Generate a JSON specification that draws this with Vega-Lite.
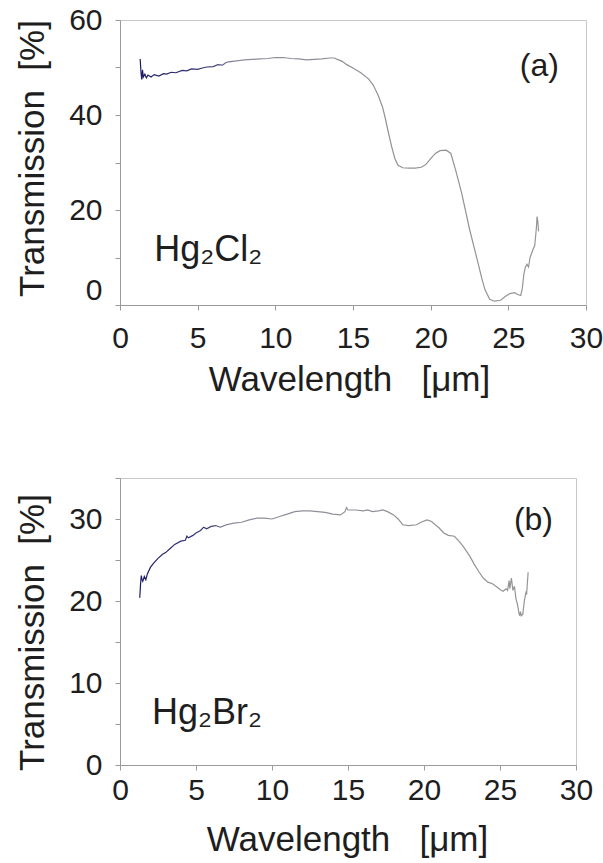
{
  "$schema": "https://vega.github.io/schema/vega-lite/v6.json",
  "autosize": {"type": "none"},
  "padding": {"left": 120, "top": 20, "right": 483, "bottom": 843},
  "background": "white",
  "bounds": "flush",
  "spacing": 173,
  "config": {
    "font": "Liberation Sans",
    "view": {"stroke": "#c8c8c8", "strokeWidth": 1},
    "axis": {
      "grid": false,
      "domainColor": "#9a9a9a",
      "tickColor": "#9a9a9a",
      "tickSize": 5,
      "labelFontSize": 30,
      "labelColor": "#1e1e1e",
      "labelFont": "Liberation Sans",
      "titleFont": "Liberation Sans",
      "titleFontSize": 35,
      "titleFontWeight": "normal",
      "titleColor": "#1e1e1e",
      "labelFlush": false,
      "labelOverlap": false
    },
    "text": {"font": "Liberation Sans", "color": "#1e1e1e"}
  },
  "datasets": {
    "cl": [
      {"wl": 1.3, "t": 51.8}, {"wl": 1.35, "t": 49.0}, {"wl": 1.4, "t": 47.5}, {"wl": 1.45, "t": 49.5},
      {"wl": 1.5, "t": 48.0}, {"wl": 1.6, "t": 48.6}, {"wl": 1.7, "t": 47.8}, {"wl": 1.8, "t": 48.4},
      {"wl": 2.0, "t": 48.0}, {"wl": 2.2, "t": 48.5}, {"wl": 2.5, "t": 48.2}, {"wl": 2.8, "t": 48.7},
      {"wl": 3.0, "t": 48.6}, {"wl": 3.3, "t": 49.0}, {"wl": 3.6, "t": 48.9}, {"wl": 4.0, "t": 49.4},
      {"wl": 4.3, "t": 49.3}, {"wl": 4.6, "t": 49.7}, {"wl": 5.0, "t": 49.6}, {"wl": 5.3, "t": 49.9},
      {"wl": 5.6, "t": 50.1}, {"wl": 6.0, "t": 50.2}, {"wl": 6.3, "t": 50.6}, {"wl": 6.6, "t": 50.5},
      {"wl": 6.8, "t": 51.0}, {"wl": 7.0, "t": 51.2}, {"wl": 7.5, "t": 51.4}, {"wl": 8.0, "t": 51.6},
      {"wl": 8.5, "t": 51.7}, {"wl": 9.0, "t": 51.8}, {"wl": 9.5, "t": 51.9}, {"wl": 10.0, "t": 52.1},
      {"wl": 10.5, "t": 52.1}, {"wl": 11.0, "t": 51.9}, {"wl": 11.5, "t": 51.8}, {"wl": 12.0, "t": 51.6},
      {"wl": 12.5, "t": 51.7}, {"wl": 13.0, "t": 51.8}, {"wl": 13.5, "t": 52.0}, {"wl": 13.8, "t": 52.0},
      {"wl": 14.0, "t": 51.7}, {"wl": 14.3, "t": 51.3}, {"wl": 14.6, "t": 50.6}, {"wl": 15.0, "t": 49.9},
      {"wl": 15.5, "t": 48.9}, {"wl": 16.0, "t": 47.6}, {"wl": 16.3, "t": 46.3}, {"wl": 16.6, "t": 44.3},
      {"wl": 16.9, "t": 41.7}, {"wl": 17.1, "t": 39.0}, {"wl": 17.3, "t": 36.0}, {"wl": 17.5, "t": 33.2},
      {"wl": 17.7, "t": 30.8}, {"wl": 17.9, "t": 29.4}, {"wl": 18.2, "t": 28.9}, {"wl": 18.6, "t": 28.8},
      {"wl": 19.0, "t": 28.8}, {"wl": 19.4, "t": 29.0}, {"wl": 19.7, "t": 29.6}, {"wl": 20.0, "t": 30.8},
      {"wl": 20.3, "t": 31.9}, {"wl": 20.6, "t": 32.5}, {"wl": 21.0, "t": 32.6}, {"wl": 21.3, "t": 31.9},
      {"wl": 21.6, "t": 28.5}, {"wl": 22.0, "t": 23.5}, {"wl": 22.5, "t": 16.0}, {"wl": 23.0, "t": 9.5},
      {"wl": 23.3, "t": 5.5}, {"wl": 23.5, "t": 3.2}, {"wl": 23.8, "t": 1.2}, {"wl": 24.1, "t": 0.8},
      {"wl": 24.5, "t": 1.0}, {"wl": 24.8, "t": 1.8}, {"wl": 25.1, "t": 2.4}, {"wl": 25.4, "t": 2.6},
      {"wl": 25.6, "t": 2.2}, {"wl": 25.8, "t": 2.0}, {"wl": 25.9, "t": 3.5}, {"wl": 26.0, "t": 6.5},
      {"wl": 26.1, "t": 8.0}, {"wl": 26.2, "t": 8.6}, {"wl": 26.3, "t": 8.0}, {"wl": 26.4, "t": 10.0},
      {"wl": 26.6, "t": 11.8}, {"wl": 26.7, "t": 12.5}, {"wl": 26.8, "t": 16.0}, {"wl": 26.85, "t": 18.6},
      {"wl": 26.9, "t": 17.5}, {"wl": 26.95, "t": 15.5}
    ],
    "br": [
      {"wl": 1.3, "t": 20.4}, {"wl": 1.35, "t": 22.0}, {"wl": 1.4, "t": 23.1}, {"wl": 1.45, "t": 22.6},
      {"wl": 1.5, "t": 22.4}, {"wl": 1.6, "t": 23.0}, {"wl": 1.7, "t": 22.6}, {"wl": 1.8, "t": 23.3},
      {"wl": 2.0, "t": 24.1}, {"wl": 2.2, "t": 24.6}, {"wl": 2.5, "t": 25.2}, {"wl": 2.8, "t": 25.7},
      {"wl": 3.0, "t": 25.9}, {"wl": 3.3, "t": 26.4}, {"wl": 3.6, "t": 26.9}, {"wl": 4.0, "t": 27.3},
      {"wl": 4.3, "t": 27.4}, {"wl": 4.4, "t": 27.9}, {"wl": 4.5, "t": 27.7}, {"wl": 4.8, "t": 28.0},
      {"wl": 5.0, "t": 28.3}, {"wl": 5.3, "t": 28.6}, {"wl": 5.5, "t": 29.0}, {"wl": 5.7, "t": 28.8},
      {"wl": 6.0, "t": 29.1}, {"wl": 6.3, "t": 29.2}, {"wl": 6.6, "t": 29.0}, {"wl": 7.0, "t": 29.3},
      {"wl": 7.5, "t": 29.5}, {"wl": 8.0, "t": 29.6}, {"wl": 8.5, "t": 29.9}, {"wl": 9.0, "t": 30.1},
      {"wl": 9.5, "t": 30.1}, {"wl": 10.0, "t": 30.0}, {"wl": 10.5, "t": 30.3}, {"wl": 11.0, "t": 30.6},
      {"wl": 11.5, "t": 30.9}, {"wl": 12.0, "t": 31.0}, {"wl": 12.5, "t": 31.0}, {"wl": 13.0, "t": 30.9},
      {"wl": 13.5, "t": 30.8}, {"wl": 14.0, "t": 30.6}, {"wl": 14.5, "t": 30.5}, {"wl": 14.8, "t": 30.9},
      {"wl": 14.9, "t": 31.4}, {"wl": 15.0, "t": 31.1}, {"wl": 15.5, "t": 31.1}, {"wl": 16.0, "t": 31.0},
      {"wl": 16.3, "t": 31.1}, {"wl": 16.6, "t": 30.9}, {"wl": 17.0, "t": 31.0}, {"wl": 17.3, "t": 31.1},
      {"wl": 17.6, "t": 30.9}, {"wl": 18.0, "t": 30.5}, {"wl": 18.3, "t": 30.0}, {"wl": 18.6, "t": 29.3},
      {"wl": 19.0, "t": 29.2}, {"wl": 19.5, "t": 29.3}, {"wl": 19.8, "t": 29.6}, {"wl": 20.2, "t": 29.9},
      {"wl": 20.5, "t": 29.7}, {"wl": 20.8, "t": 29.2}, {"wl": 21.0, "t": 28.9}, {"wl": 21.3, "t": 28.3},
      {"wl": 21.6, "t": 28.0}, {"wl": 22.0, "t": 27.9}, {"wl": 22.3, "t": 27.3}, {"wl": 22.6, "t": 26.6},
      {"wl": 23.0, "t": 25.5}, {"wl": 23.3, "t": 24.5}, {"wl": 23.6, "t": 23.6}, {"wl": 23.9, "t": 22.8},
      {"wl": 24.2, "t": 22.3}, {"wl": 24.5, "t": 22.1}, {"wl": 24.8, "t": 21.7}, {"wl": 25.0, "t": 21.4},
      {"wl": 25.2, "t": 21.2}, {"wl": 25.4, "t": 21.5}, {"wl": 25.5, "t": 21.3}, {"wl": 25.6, "t": 22.5},
      {"wl": 25.65, "t": 21.5}, {"wl": 25.75, "t": 22.8}, {"wl": 25.85, "t": 21.3}, {"wl": 25.95, "t": 21.8},
      {"wl": 26.05, "t": 20.3}, {"wl": 26.15, "t": 19.6}, {"wl": 26.25, "t": 18.5}, {"wl": 26.3, "t": 18.2},
      {"wl": 26.35, "t": 18.7}, {"wl": 26.4, "t": 18.2}, {"wl": 26.5, "t": 18.4}, {"wl": 26.6, "t": 20.0},
      {"wl": 26.7, "t": 21.0}, {"wl": 26.75, "t": 20.8}, {"wl": 26.85, "t": 23.5}
    ]
  },
  "vconcat": [
    {
      "width": 466,
      "height": 285,
      "layer": [
        {
          "data": {"name": "cl"},
          "mark": {
            "type": "line",
            "strokeWidth": 1.2,
            "color": {
              "gradient": "linear", "x1": 0, "y1": 0, "x2": 1, "y2": 0,
              "stops": [
                {"offset": 0, "color": "#1c1c66"},
                {"offset": 0.18, "color": "#3a3a78"},
                {"offset": 0.24, "color": "#8c8c9c"},
                {"offset": 1, "color": "#959595"}
              ]
            }
          },
          "encoding": {
            "x": {
              "field": "wl", "type": "quantitative",
              "scale": {"domain": [0, 30], "nice": false},
              "axis": {
                "values": [0, 5, 10, 15, 20, 25, 30],
                "title": "Wavelength\u00a0\u00a0\u00a0[μm]",
                "labelPadding": 13,
                "titleBaseline": "alphabetic",
                "titleY": 85,
                "titleX": 229
              }
            },
            "y": {
              "field": "t", "type": "quantitative",
              "scale": {"domain": [0, 60], "nice": false},
              "axis": {
                "values": [0, 10, 20, 30, 40, 50, 60],
                "labelExpr": "datum.value % 20 === 0 ? datum.label : ''",
                "labelBaseline": {"condition": {"test": "datum.value === 0", "value": "bottom"}, "value": "middle"},
                "labelPadding": 13,
                "title": "Transmission\u00a0\u00a0[%]",
                "titleBaseline": "alphabetic",
                "titleAngle": 270,
                "titleAlign": "center",
                "titleX": -77,
                "titleY": 138
              }
            }
          }
        },
        {
          "data": {"values": [{"wl": 27.0, "t": 50.3, "label": "(a)"}]},
          "mark": {"type": "text", "fontSize": 32, "align": "center", "baseline": "middle"},
          "encoding": {
            "x": {"field": "wl", "type": "quantitative"},
            "y": {"field": "t", "type": "quantitative"},
            "text": {"field": "label"}
          }
        },
        {
          "data": {"values": [{"wl": 2.2, "t": 9.2, "label": "Hg₂Cl₂"}]},
          "mark": {"type": "text", "fontSize": 36, "align": "left", "baseline": "alphabetic"},
          "encoding": {
            "x": {"field": "wl", "type": "quantitative"},
            "y": {"field": "t", "type": "quantitative"},
            "text": {"field": "label"}
          }
        }
      ]
    },
    {
      "width": 456,
      "height": 287,
      "layer": [
        {
          "data": {"name": "br"},
          "mark": {
            "type": "line",
            "strokeWidth": 1.2,
            "color": {
              "gradient": "linear", "x1": 0, "y1": 0, "x2": 1, "y2": 0,
              "stops": [
                {"offset": 0, "color": "#1c1c66"},
                {"offset": 0.18, "color": "#3a3a78"},
                {"offset": 0.24, "color": "#8c8c9c"},
                {"offset": 1, "color": "#959595"}
              ]
            }
          },
          "encoding": {
            "x": {
              "field": "wl", "type": "quantitative",
              "scale": {"domain": [0, 30], "nice": false},
              "axis": {
                "values": [0, 5, 10, 15, 20, 25, 30],
                "title": "Wavelength\u00a0\u00a0\u00a0[μm]",
                "labelPadding": 5,
                "titleBaseline": "alphabetic",
                "titleY": 85,
                "titleX": 227
              }
            },
            "y": {
              "field": "t", "type": "quantitative",
              "scale": {"domain": [0, 35], "nice": false},
              "axis": {
                "values": [0, 5, 10, 15, 20, 25, 30, 35],
                "labelExpr": "datum.value % 10 === 0 ? datum.label : ''",
                "labelPadding": 13,
                "title": "Transmission\u00a0\u00a0[%]",
                "titleBaseline": "alphabetic",
                "titleAngle": 270,
                "titleAlign": "center",
                "titleX": -77,
                "titleY": 154
              }
            }
          }
        },
        {
          "data": {"values": [{"wl": 27.2, "t": 29.9, "label": "(b)"}]},
          "mark": {"type": "text", "fontSize": 32, "align": "center", "baseline": "middle"},
          "encoding": {
            "x": {"field": "wl", "type": "quantitative"},
            "y": {"field": "t", "type": "quantitative"},
            "text": {"field": "label"}
          }
        },
        {
          "data": {"values": [{"wl": 2.1, "t": 5.0, "label": "Hg₂Br₂"}]},
          "mark": {"type": "text", "fontSize": 36, "align": "left", "baseline": "alphabetic"},
          "encoding": {
            "x": {"field": "wl", "type": "quantitative"},
            "y": {"field": "t", "type": "quantitative"},
            "text": {"field": "label"}
          }
        }
      ]
    }
  ]
}
